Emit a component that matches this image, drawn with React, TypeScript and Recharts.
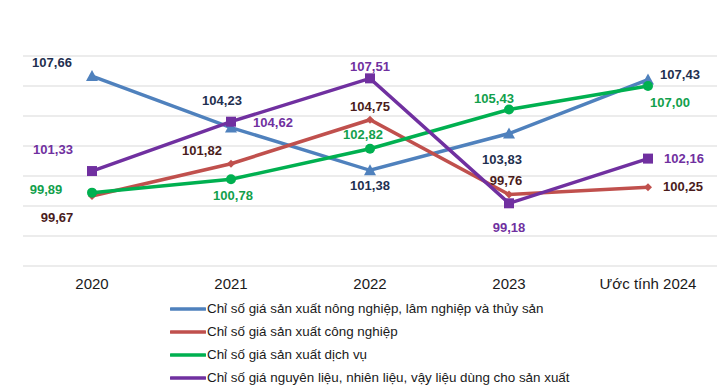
import React from "react";
import { LineChart, Line, XAxis, YAxis, CartesianGrid, LabelList } from "recharts";

const categories = ["2020", "2021", "2022", "2023", "Ước tính 2024"];
const seriesNames = [
  "Chỉ số giá sản xuất nông nghiệp, lâm nghiệp và thủy sản",
  "Chỉ số giá sản xuất công nghiệp",
  "Chỉ số giá sản xuất dịch vụ",
  "Chỉ số giá nguyên liệu, nhiên liệu, vậy liệu dùng cho sản xuất",
];
const nongNghiep = [107.66, 104.23, 101.38, 103.83, 107.43];
const congNghiep = [99.67, 101.82, 104.75, 99.76, 100.25];
const dichVu = [99.89, 100.78, 102.82, 105.43, 107.0];
const nguyenLieu = [101.33, 104.62, 107.51, 99.18, 102.16];
const yTicks = [95, 97, 99, 101, 103, 105, 107, 109];

const data = categories.map((c, i) => ({
  name: c,
  s0: nongNghiep[i],
  s1: congNghiep[i],
  s2: dichVu[i],
  s3: nguyenLieu[i],
}));

const lineColors = ["#4F81BD", "#C0504D", "#00B050", "#7030A0"];
const labelColors = ["#1F3050", "#4A1C1C", "#12A04C", "#7030A0"];

// label offsets (dx, dy of label centre relative to point)
const labelOffsets = [
  [[-40, -14], [-9, -27], [0, 15], [-7, 26], [32, -5]],
  [[-35, 22], [-29, -13], [0, -13], [-3, -14], [35, -1]],
  [[-46, -3], [2, 16], [-7, -14], [-15, -11], [22, 16]],
  [[-39, -22], [42, 1], [0, -12], [0, 24], [36, 0]],
];

const fmt = (v: number) => v.toFixed(2).replace(".", ",");

const makeLabel = (si: number) => (props: any) => {
  const { x, y, value, index } = props;
  const [dx, dy] = labelOffsets[si][index];
  return (
    <text
      x={x + dx}
      y={y + dy}
      textAnchor="middle"
      dominantBaseline="central"
      fill={labelColors[si]}
      fontSize={13}
      fontWeight="bold"
      fontFamily="'Liberation Sans', Arial, sans-serif"
    >
      {fmt(value)}
    </text>
  );
};

const makeDot = (si: number) => (props: any) => {
  const { cx, cy, index } = props;
  const c = lineColors[si];
  if (si === 0)
    return <polygon key={index} points={`${cx},${cy - 6} ${cx - 6},${cy + 5} ${cx + 6},${cy + 5}`} fill={c} />;
  if (si === 1)
    return <polygon key={index} points={`${cx},${cy - 4} ${cx + 4},${cy} ${cx},${cy + 4} ${cx - 4},${cy}`} fill={c} />;
  if (si === 2) return <circle key={index} cx={cx} cy={cy} r={5} fill={c} />;
  return <rect key={index} x={cx - 5} y={cy - 5} width={10} height={10} fill={c} />;
};

export default function App() {
  return (
    <div style={{ position: "absolute", left: 0, top: 0, width: 725, height: 387, background: "#fff" }}>
      <LineChart
        width={725}
        height={387}
        data={data}
        margin={{ top: 56, right: 8, left: 23, bottom: 91 }}
      >
        <CartesianGrid horizontal vertical={false} stroke="#D9D9D9" strokeWidth={1} />
        <YAxis hide domain={[95, 109]} ticks={yTicks} />
        <XAxis
          dataKey="name"
          axisLine={false}
          tickLine={false}
          height={30}
          tickMargin={6}
          padding={{ left: 69, right: 69 }}
          tick={{ fill: "#1a1a1a", fontSize: 15, fontFamily: "'Liberation Sans Narrow', 'Arial Narrow', 'Liberation Sans', Arial" }}
          interval={0}
        />
        {["s0", "s1", "s2", "s3"].map((k, si) => (
          <Line
            key={k}
            dataKey={k}
            stroke={lineColors[si]}
            strokeWidth={3.5}
            dot={makeDot(si)}
            activeDot={false}
            isAnimationActive={false}
          >
            <LabelList dataKey={k} content={makeLabel(si)} />
          </Line>
        ))}
      </LineChart>
      <div style={{ position: "absolute", left: 170, top: 297 }}>
        {seriesNames.map((n, i) => (
          <div key={n} style={{ display: "flex", alignItems: "center", height: 23 }}>
            <svg width={36} height={10} style={{ marginRight: 1 }}>
              <line x1={1} y1={5} x2={35} y2={5} stroke={lineColors[i]} strokeWidth={3.5} strokeLinecap="round" />
            </svg>
            <span style={{ fontFamily: "'Liberation Sans', Arial, sans-serif", fontSize: 13.4, color: "#1a1a1a" }}>{n}</span>
          </div>
        ))}
      </div>
    </div>
  );
}
